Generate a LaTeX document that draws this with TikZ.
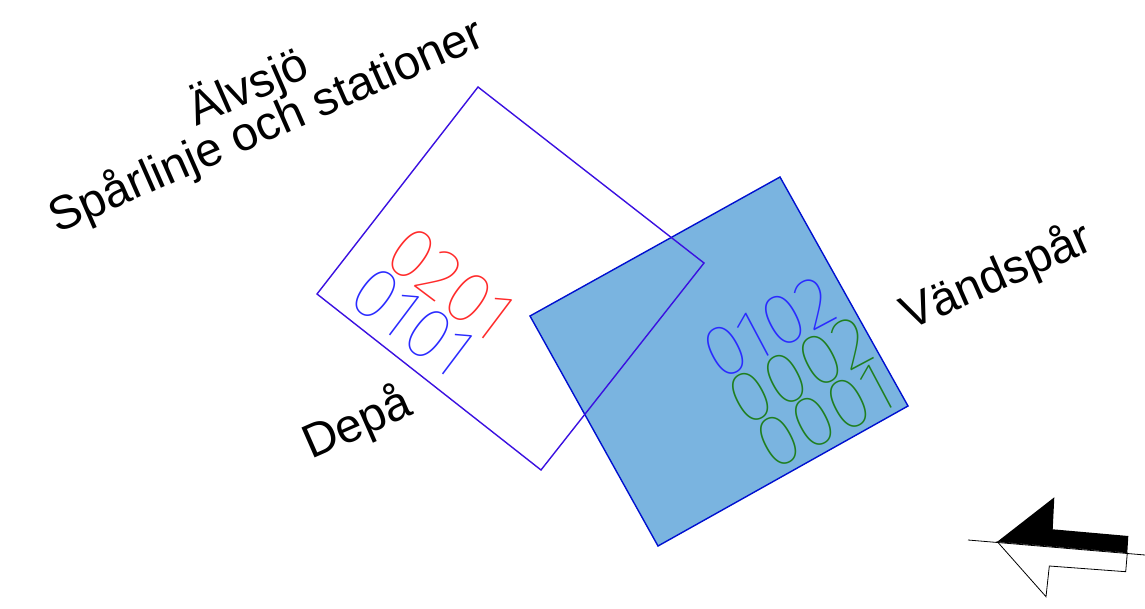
\documentclass[tikz,border=0pt]{standalone}
\usepackage{fontspec}
\setmainfont{Liberation Sans}
\IfFontExistsTF{Fira Sans Thin}{\newfontfamily\digfont{Fira Sans Thin}}{%
 \IfFontExistsTF{Fira Sans ExtraLight}{\newfontfamily\digfont{Fira Sans ExtraLight}}{%
  \IfFontExistsTF{DejaVu Sans ExtraLight}{\newfontfamily\digfont{DejaVu Sans ExtraLight}}{%
   \IfFontExistsTF{Lato Hairline}{\newfontfamily\digfont{Lato Hairline}}{\newfontfamily\digfont{Liberation Sans}}}}}
\definecolor{sqviolet}{HTML}{3A10E0}
\definecolor{sqblue}{HTML}{0010D0}
\definecolor{sqfill}{HTML}{7AB4E0}
\definecolor{digred}{HTML}{FF2A2A}
\definecolor{digblue}{HTML}{2A2AFF}
\definecolor{diggreen}{HTML}{1F7F1F}
\tikzset{
  label/.style={inner sep=0pt, font=\fontsize{47.5}{57}\selectfont, anchor=base west, rotate=23.7},
  digits/.style={inner sep=0pt, font=\digfont\fontsize{73}{80}\selectfont, anchor=center},
  arrowline/.style={draw=black, line width=0.8pt},
}
\begin{document}
\begin{tikzpicture}[x=1pt,y=-1pt]
\useasboundingbox (0,0) rectangle (1145,609);
% filled blue square
\draw[sqblue, line width=1.4pt, fill=sqfill] (780,177) -- (908,406) -- (658,546) -- (530,316) -- cycle;
% violet outline square
\draw[sqviolet, line width=1.4pt] (478,87) -- (704,263) -- (541,470) -- (317,294) -- cycle;
% labels
\node[label] (alvsjo) at (196,127) {Älvsjö};
\node[label] (sparlinje) at (57,234) {Spårlinje och stationer};
\node[label] (depa) at (311,460) {Depå};
\node[label] (vandspar) at (909,331) {Vändspår};
% digit groups
\node[digits, text=digred, rotate=-37] (d0201) at (451,284) {0201};
\node[digits, text=digblue, rotate=-37] (d0101) at (413,322) {0101};
\node[digits, text=digblue, rotate=28] (d0102) at (769,328) {0102};
\node[digits, text=diggreen, rotate=28] (d0002) at (800,371) {0002};
\node[digits, text=diggreen, rotate=28] (d0001) at (825,416) {0001};
% north arrow
\coordinate (lineL) at (968,540);
\coordinate (lineR) at (1145,555);
\coordinate (tip) at (997.3,541.7);
\coordinate (uh) at (1054.3,497.3);
\coordinate (un) at (1052.7,529.3);
\coordinate (ut) at (1128.3,536);
\coordinate (ct) at (1127.3,552.7);
\coordinate (lt) at (1125.7,571.7);
\coordinate (ln) at (1049.3,566);
\coordinate (lh) at (1046,596.7);
\fill[black] (tip) -- (uh) -- (un) -- (ut) -- (ct) -- cycle;
\draw[arrowline, fill=white] (tip) -- (ct) -- (lt) -- (ln) -- (lh) -- cycle;
\draw[arrowline] (lineL) -- (lineR);
\end{tikzpicture}
\end{document}
